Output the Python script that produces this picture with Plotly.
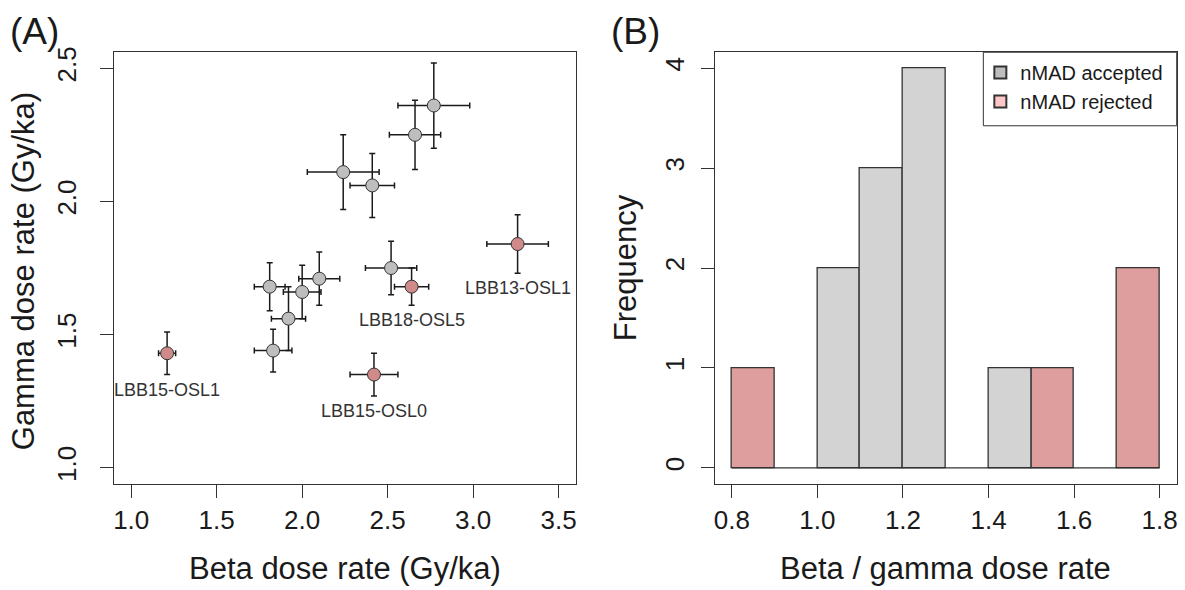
import plotly.graph_objects as go

# ---------------- Data: panel A ----------------
beta = [1.21, 1.81, 1.83, 1.92, 2.00, 2.10, 2.24, 2.41, 2.52, 2.64, 2.66, 2.77, 2.42, 3.26]
beta_err = [0.05, 0.09, 0.11, 0.10, 0.11, 0.12, 0.21, 0.13, 0.15, 0.10, 0.15, 0.21, 0.14, 0.18]
gamma = [1.43, 1.68, 1.44, 1.56, 1.66, 1.71, 2.11, 2.06, 1.75, 1.68, 2.25, 2.36, 1.35, 1.84]
gamma_err = [0.08, 0.09, 0.08, 0.12, 0.10, 0.10, 0.14, 0.12, 0.10, 0.07, 0.13, 0.16, 0.08, 0.11]
status = ["rejected", "accepted", "accepted", "accepted", "accepted", "accepted", "accepted",
          "accepted", "accepted", "rejected", "accepted", "accepted", "rejected", "rejected"]
sample_label = ["LBB15-OSL1", "", "", "", "", "", "", "", "", "LBB18-OSL5", "", "", "LBB15-OSL0", "LBB13-OSL1"]

# ---------------- Data: panel B ----------------
bin_edges = [0.8, 0.9, 1.0, 1.1, 1.2, 1.3, 1.4, 1.5, 1.6, 1.7, 1.8]
accepted_counts = [0, 0, 2, 3, 4, 0, 1, 0, 0, 0]
rejected_counts = [1, 0, 0, 0, 0, 0, 0, 1, 0, 2]

x_ticks_a = [1.0, 1.5, 2.0, 2.5, 3.0, 3.5]
y_ticks_a = [1.0, 1.5, 2.0, 2.5]
x_ticks_b = [0.8, 1.0, 1.2, 1.4, 1.6, 1.8]
y_ticks_b = [0, 1, 2, 3, 4]

# ---------------- Styles ----------------
FONT = "Arial, Liberation Sans, sans-serif"
TXT = "#1a1a1a"
EDGE = "#333333"
GREY_PT = "#BEBEBE"
RED_PT = "#D08A8A"
GREY_BAR = "#D3D3D3"
RED_BAR = "#DE9E9E"
LEG_GREY = "#BEBEBE"
LEG_RED = "#FFC8C8"

W, H = 1185, 590
def px(x):
    return x / W
def py(y):
    return 1 - y / H

fig = go.Figure()

# Panel A scatter with error bars
for st, col in (("accepted", GREY_PT), ("rejected", RED_PT)):
    idx = [i for i, s in enumerate(status) if s == st]
    fig.add_trace(go.Scatter(
        x=[beta[i] for i in idx], y=[gamma[i] for i in idx],
        mode="markers",
        marker=dict(size=13, color=col, line=dict(color=EDGE, width=1)),
        error_x=dict(type="data", array=[beta_err[i] for i in idx], color="#1a1a1a", thickness=1.5, width=3),
        error_y=dict(type="data", array=[gamma_err[i] for i in idx], color="#1a1a1a", thickness=1.5, width=3),
        xaxis="x", yaxis="y", showlegend=False, hoverinfo="x+y",
    ))

# Panel B histogram bars
centers = [(bin_edges[i] + bin_edges[i + 1]) / 2 for i in range(len(bin_edges) - 1)]
widths = [bin_edges[i + 1] - bin_edges[i] for i in range(len(bin_edges) - 1)]

# baseline of empty bins (R draws zero-height rects as a line)
fig.add_trace(go.Scatter(
    x=[bin_edges[0], bin_edges[-1]], y=[0, 0], mode="lines",
    line=dict(color=EDGE, width=1.3), xaxis="x2", yaxis="y2", showlegend=False, hoverinfo="skip",
))
for counts, col in ((accepted_counts, GREY_BAR), (rejected_counts, RED_BAR)):
    idx = [i for i, c in enumerate(counts) if c > 0]
    fig.add_trace(go.Bar(
        x=[centers[i] for i in idx], y=[counts[i] for i in idx], width=[widths[i] for i in idx],
        marker=dict(color=col, line=dict(color=EDGE, width=1.3)),
        xaxis="x2", yaxis="y2", showlegend=False,
    ))

# legend entries
for name, col in (("nMAD accepted", LEG_GREY), ("nMAD rejected", LEG_RED)):
    fig.add_trace(go.Scatter(
        x=[None], y=[None], mode="markers", name=name,
        marker=dict(symbol="square", size=8, color=col, line=dict(color=EDGE, width=1.2)),
        xaxis="x2", yaxis="y2", showlegend=True,
    ))

axis_common = dict(
    showline=True, linecolor=EDGE, linewidth=1, mirror=True,
    ticks="outside", ticklen=13, tickcolor=EDGE, tickwidth=1,
    showgrid=False, zeroline=False,
    tickfont=dict(family=FONT, size=26, color=TXT),
)

dom_y = [py(482.7), py(46.7)]
fig.update_layout(
    width=W, height=H,
    margin=dict(l=0, r=0, t=0, b=0),
    paper_bgcolor="white", plot_bgcolor="white",
    font=dict(family=FONT, color=TXT),
    bargap=0,
    xaxis=dict(domain=[px(113.3), px(575.7)], range=[0.9, 3.6], tickvals=x_ticks_a,
               ticktext=[f"{v:.1f}" for v in x_ticks_a], anchor="y", **axis_common),
    yaxis=dict(domain=dom_y, range=[0.94, 2.56], tickvals=y_ticks_a, ticklabelstandoff=14,
               ticktext=[f"{v:.1f}" for v in y_ticks_a], tickangle=-90, anchor="x", **axis_common),
    xaxis2=dict(domain=[px(715), px(1177.7)], range=[0.76, 1.84], tickvals=x_ticks_b,
                ticktext=[f"{v:.1f}" for v in x_ticks_b], anchor="y2", **axis_common),
    yaxis2=dict(domain=dom_y, range=[-0.16, 4.16], tickvals=y_ticks_b, ticklabelstandoff=6,
                ticktext=[str(v) for v in y_ticks_b], tickangle=-90, anchor="x2", **axis_common),
    legend=dict(x=px(981), y=py(47.5), xanchor="left", yanchor="top",
                borderwidth=0, bgcolor="rgba(0,0,0,0)",
                font=dict(family=FONT, size=20, color=TXT), itemsizing="constant"),
    showlegend=True,
    shapes=[dict(type="rect", xref="paper", yref="paper",
                 x0=px(984), x1=px(1177.7), y0=py(121), y1=py(46.7),
                 line=dict(color=EDGE, width=1), fillcolor="white", layer="below")],
)

ann = []
# sample labels below rejected points
for i, lab in enumerate(sample_label):
    if lab:
        ann.append(dict(x=beta[i], y=gamma[i] - gamma_err[i], xref="x", yref="y", text=lab,
                        showarrow=False, yanchor="middle", yshift=-15,
                        font=dict(family=FONT, size=18, color="#333333")))
# axis titles
ann += [
    dict(x=px(344.5), y=py(568), xref="paper", yref="paper", text="Beta dose rate (Gy/ka)",
         showarrow=False, xanchor="center", yanchor="middle", font=dict(family=FONT, size=31, color=TXT)),
    dict(x=px(22), y=py(268), xref="paper", yref="paper", text="Gamma dose rate (Gy/ka)",
         showarrow=False, textangle=-90, xanchor="center", yanchor="middle", font=dict(family=FONT, size=31, color=TXT)),
    dict(x=px(946), y=py(568), xref="paper", yref="paper", text="Beta / gamma dose rate",
         showarrow=False, xanchor="center", yanchor="middle", font=dict(family=FONT, size=31, color=TXT)),
    dict(x=px(625), y=py(264), xref="paper", yref="paper", text="Frequency",
         showarrow=False, textangle=-90, xanchor="center", yanchor="middle", font=dict(family=FONT, size=31, color=TXT)),
    dict(x=px(7), y=py(26), xref="paper", yref="paper", text="(A)",
         showarrow=False, xanchor="left", yanchor="middle", font=dict(family=FONT, size=37, color=TXT)),
    dict(x=px(609), y=py(26), xref="paper", yref="paper", text="(B)",
         showarrow=False, xanchor="left", yanchor="middle", font=dict(family=FONT, size=37, color=TXT)),
]
fig.update_layout(annotations=ann)

fig.write_html("out.html")
